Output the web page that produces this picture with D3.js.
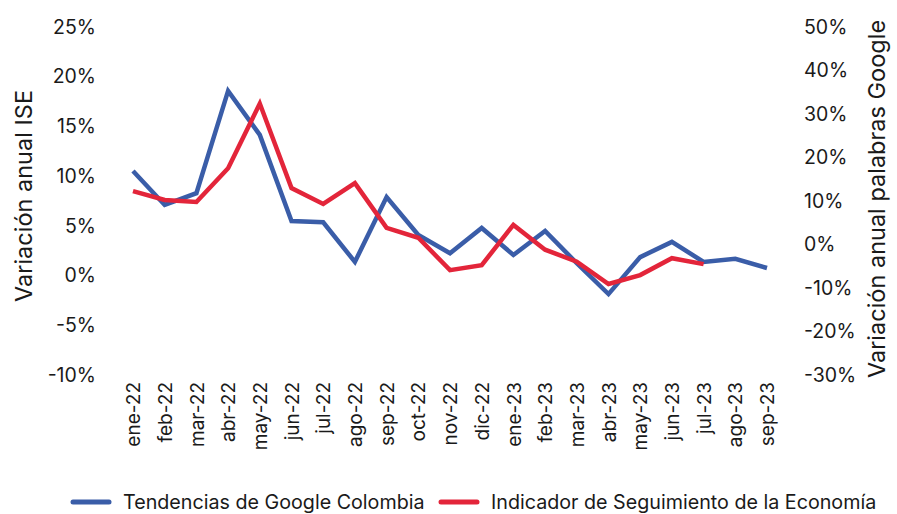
<!DOCTYPE html>
<html>
<head>
<meta charset="utf-8">
<script src="https://cdn.jsdelivr.net/npm/d3@7"></script>
<style>
  body { margin: 0; background: #fff; }
  text { font-family: Inter, "Noto Sans", sans-serif; fill: #1a1a1a; }
</style>
</head>
<body>
<svg width="897" height="514"></svg>
<script>
// months on the x axis
const months = ['ene-22','feb-22','mar-22','abr-22','may-22','jun-22','jul-22','ago-22','sep-22','oct-22',
    'nov-22','dic-22','ene-23','feb-23','mar-23','abr-23','may-23','jun-23','jul-23','ago-23','sep-23'];

// Google trends, right axis (%)
const google = [16.9, 9.1, 11.8, 35.3, 25.2, 5.4, 5.1, -4.0, 10.9, 2.2,
    -2.0, 3.8, -2.4, 3.1, -4.3, -11.4, -2.9, 0.6, -4.0, -3.3, -5.4];

// ISE, left axis (%) - ends at jul-23
const ise = [8.5, 7.6, 7.4, 10.8, 17.3, 8.8, 7.2, 9.3, 4.8, 3.8,
    0.55, 1.05, 5.1, 2.6, 1.4, -0.85, 0.05, 1.75, 1.15];

const leftTicks = [25, 20, 15, 10, 5, 0, -5, -10];
const rightTicks = [50, 40, 30, 20, 10, 0, -10, -20, -30];

var svg = d3.select('svg');

var x = d3.scalePoint()
    .domain(months)
    .range([133, 767]);

var yL = d3.scaleLinear()
    .domain([-10, 25])
    .range([375, 27]);

var yR = d3.scaleLinear()
    .domain([-30, 50])
    .range([375, 27]);

/////////////////////////////
// AXES
/////////////////////////////
var left = svg.append('g')
    .attr('transform', 'translate(96,0)')
    .call(d3.axisLeft(yL).tickValues(leftTicks).tickSize(0).tickPadding(0).tickFormat(d => d + '%'));

var right = svg.append('g')
    .attr('transform', 'translate(804,0)')
    .call(d3.axisRight(yR).tickValues(rightTicks).tickSize(0).tickPadding(0).tickFormat(d => d + '%'));

var bottom = svg.append('g')
    .attr('transform', 'translate(0,382)')
    .call(d3.axisBottom(x).tickSize(0).tickPadding(0));

[left, right, bottom].forEach(g => {
    g.select('.domain').remove();
    g.selectAll('text').attr('font-size', 19.5).attr('fill', '#1a1a1a')
        .style('font-family', 'Inter, "Noto Sans", sans-serif');
});

bottom.selectAll('text')
    .attr('font-size', 19)
    .attr('transform', 'rotate(-90)')
    .attr('text-anchor', 'end')
    .attr('x', 0)
    .attr('y', 0)
    .attr('dy', '0.35em');

svg.append('text')
    .attr('transform', 'translate(32,196) rotate(-90)')
    .attr('text-anchor', 'middle')
    .attr('font-size', 23.5)
    .text('Variación anual ISE');

svg.append('text')
    .attr('transform', 'translate(885,199) rotate(-90)')
    .attr('text-anchor', 'middle')
    .attr('font-size', 23.5)
    .text('Variación anual palabras Google');

/////////////////////////////
// LINES
/////////////////////////////
var lineG = d3.line()
    .x((d, i) => x(months[i]))
    .y(d => yR(d));

var lineI = d3.line()
    .x((d, i) => x(months[i]))
    .y(d => yL(d));

svg.append('path')
    .datum(google)
    .attr('d', lineG)
    .attr('fill', 'none')
    .attr('stroke', '#3a5da8')
    .attr('stroke-width', 4.5)
    .attr('stroke-linejoin', 'miter');

svg.append('path')
    .datum(ise)
    .attr('d', lineI)
    .attr('fill', 'none')
    .attr('stroke', '#e3253a')
    .attr('stroke-width', 4.5)
    .attr('stroke-linejoin', 'miter');

/////////////////////////////
// LEGEND
/////////////////////////////
var legend = [
    { name: 'Tendencias de Google Colombia', color: '#3a5da8', x: 73 },
    { name: 'Indicador de Seguimiento de la Economía', color: '#e3253a', x: 441 }
];

var lg = svg.append('g').selectAll('g')
    .data(legend)
    .enter()
    .append('g')
    .attr('transform', d => 'translate(' + d.x + ',502)');

lg.append('line')
    .attr('x1', 0).attr('x2', 36)
    .attr('stroke', d => d.color)
    .attr('stroke-width', 5)
    .attr('stroke-linecap', 'round');

lg.append('text')
    .attr('x', 50)
    .attr('dy', '0.35em')
    .attr('font-size', 19.7)
    .text(d => d.name);
</script>
</body>
</html>
